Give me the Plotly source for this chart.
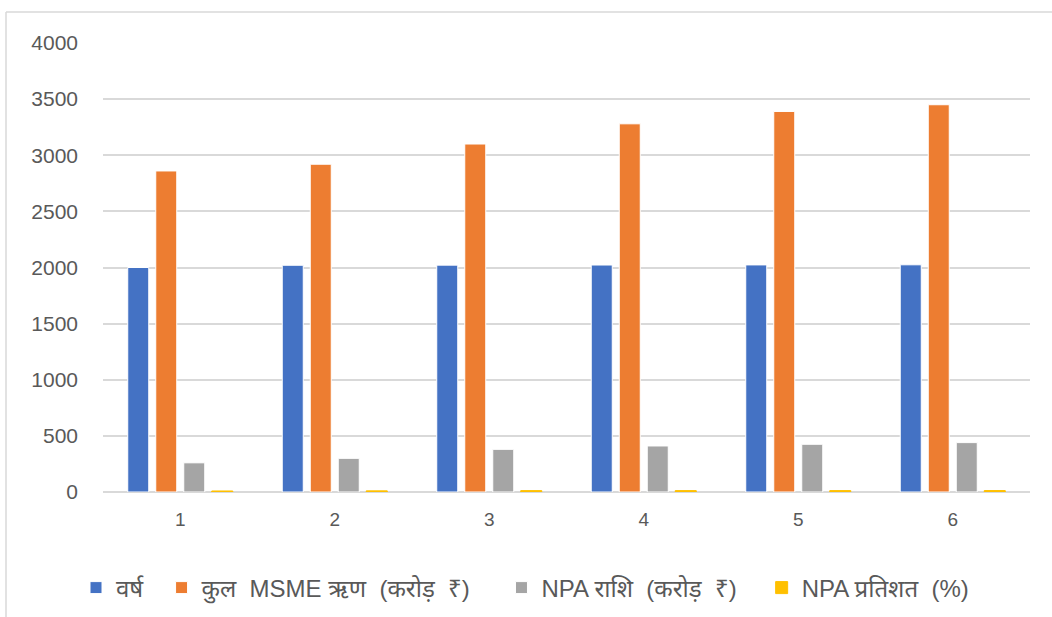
import plotly.graph_objects as go

# Categories along the x axis
categories = ["1", "2", "3", "4", "5", "6"]

# Series values
years = [2000, 2020, 2021, 2022, 2023, 2024]
msme_credit = [2860, 2920, 3100, 3280, 3390, 3450]
npa_amount = [260, 300, 380, 410, 425, 440]
npa_percent = [9.1, 10.3, 12.3, 12.5, 12.5, 12.8]

y_ticks = [0, 500, 1000, 1500, 2000, 2500, 3000, 3500, 4000]

NB = "\u00a0"  # keeps the doubled spaces in legend labels
# (label, values, fill, outline, trailing spaces after the label)
series = [
    ("वर्ष", years, "#4472C4", "white", 2),
    (f"कुल{NB}{NB}MSME ऋण{NB}{NB}(करोड़{NB}{NB}₹)", msme_credit, "#ED7D31", "white", 4),
    (f"NPA राशि{NB}{NB}(करोड़{NB}{NB}₹)", npa_amount, "#A5A5A5", "white", 3),
    (f"NPA प्रतिशत{NB}{NB}(%)", npa_percent, "#FFC000", "#FFC000", 0),
]

W, H = 1052, 617
ML, MR, MT, MB = 103, 22, 43, 125
PW = W - ML - MR
PH = H - MT - MB

fig = go.Figure()
for name, vals, color, edge, pad in series:
    fig.add_trace(go.Bar(
        x=categories, y=vals, name=name + NB * pad,
        marker=dict(color=color, line=dict(color=edge, width=1)),
    ))

text_color = "#595959"
grid_color = "#D9D9D9"

# outer chart-area frame (top and left edges)
def px_x(px):
    return (px - ML) / PW

def px_y(py):
    return (H - MB - py) / PH

frame = dict(type="line", xref="paper", yref="paper",
             line=dict(color=grid_color, width=1.5))
fig.add_shape(**frame, x0=px_x(6), x1=px_x(W + 5), y0=px_y(12), y1=px_y(12))
fig.add_shape(**frame, x0=px_x(6), x1=px_x(6), y0=px_y(12), y1=px_y(H + 5))

fig.update_layout(
    width=W, height=H,
    margin=dict(l=ML, r=MR, t=MT, b=MB, autoexpand=False),
    paper_bgcolor="white", plot_bgcolor="white",
    barmode="group", bargap=0.275, bargroupgap=0.25,
    font=dict(family="Liberation Sans, Noto Sans, sans-serif", color=text_color, size=20),
    showlegend=True,
    legend=dict(orientation="h", x=px_x(76), xanchor="left", y=px_y(588), yanchor="middle",
                font=dict(size=24, color=text_color), itemwidth=30,
                traceorder="normal", bgcolor="rgba(0,0,0,0)"),
)
fig.update_xaxes(
    showgrid=False, showline=False, zeroline=False,
    tickfont=dict(size=19, color=text_color), ticks="", ticklabelstandoff=14,
)
fig.update_yaxes(
    range=[0, 4000], tickvals=y_ticks, showgrid=True, gridcolor=grid_color, gridwidth=1.5,
    zeroline=True, zerolinecolor=grid_color, zerolinewidth=1.5, showline=False,
    tickfont=dict(size=21, color=text_color), ticks="", ticklabelstandoff=24,
)

fig.write_html("out.html")
